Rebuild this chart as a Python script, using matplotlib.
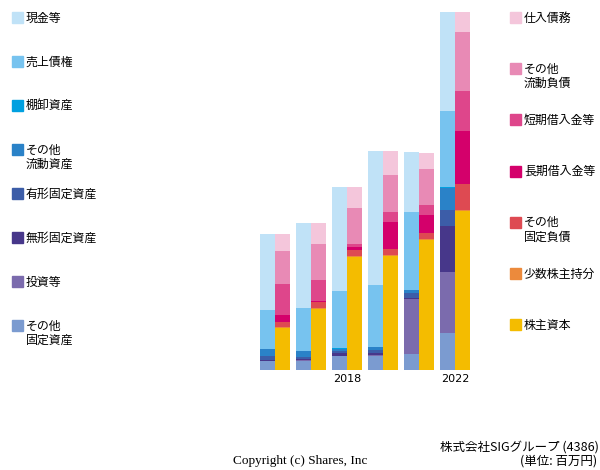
import matplotlib
matplotlib.use('Agg')
import matplotlib.pyplot as plt
from matplotlib.patches import Rectangle

plt.rcParams['font.family'] = ['Noto Sans CJK JP', 'DejaVu Sans']

# six fiscal periods; only two of them carry a tick label
tick_labels = ['', '', '2018', '', '', '2022']

# assets (bottom -> top)
asset_names = ['その他\n固定資産', '投資等', '無形固定資産', '有形固定資産',
               'その他\n流動資産', '棚卸資産', '売上債権', '現金等']
other_fixed_assets = [9.0, 9.3, 14.0, 14.3, 16.0, 37.3]
investments = [0.3, 0.5, 0.5, 0.5, 54.7, 60.3]
intangible = [0.7, 1.0, 2.5, 1.8, 1.0, 46.7]
tangible = [3.7, 2.7, 2.5, 3.5, 5.7, 15.3]
other_current_assets = [7.5, 5.5, 2.0, 2.7, 2.7, 22.7]
inventory = [0.3, 0.5, 0.3, 0.3, 0.3, 0.3]
receivables = [39.0, 43.0, 57.3, 61.7, 77.3, 76.7]
cash = [75.3, 84.5, 104.0, 134.0, 60.0, 99.0]

# liabilities and equity (bottom -> top)
liab_names = ['株主資本', '少数株主持分', 'その他\n固定負債', '長期借入金等',
              '短期借入金等', 'その他\n流動負債', '仕入債務']
equity = [42.3, 61.0, 113.3, 114.3, 130.0, 159.0]
minority = [1.0, 1.0, 1.0, 1.0, 1.0, 1.0]
other_fixed_liab = [4.3, 5.7, 5.3, 5.7, 6.0, 26.3]
long_debt = [7.3, 1.3, 3.7, 27.3, 18.3, 52.7]
short_debt = [30.7, 21.3, 3.0, 10.0, 9.7, 40.3]
other_current_liab = [33.7, 36.0, 36.0, 37.0, 36.0, 59.0]
payables = [16.7, 20.7, 21.0, 23.7, 16.3, 19.7]

asset_series = [other_fixed_assets, investments, intangible, tangible,
                other_current_assets, inventory, receivables, cash]
asset_colors = ['#7B9BD0', '#7B6BAD', '#47378A', '#3C5DA8',
                '#2A82C8', '#00A0E0', '#77C3EF', '#C0E2F7']
liab_series = [equity, minority, other_fixed_liab, long_debt,
               short_debt, other_current_liab, payables]
liab_colors = ['#F4BC00', '#EC8A3C', '#DE4A52', '#D4006B',
               '#DE468B', '#E88AB5', '#F4C6DB']

W, H = 600, 470
fig = plt.figure(figsize=(6.0, 4.7), dpi=100)
ax = fig.add_axes([257 / W, (H - 370) / H, 216 / W, 360 / H])

x = list(range(len(tick_labels)))
bw = 15 / 36

bottom = [0.0] * len(x)
for vals, c in zip(asset_series, asset_colors):
    ax.bar([i - bw / 2 for i in x], vals, bw, bottom=bottom, color=c, linewidth=0)
    bottom = [b + v for b, v in zip(bottom, vals)]

bottom = [0.0] * len(x)
for vals, c in zip(liab_series, liab_colors):
    ax.bar([i + bw / 2 for i in x], vals, bw, bottom=bottom, color=c, linewidth=0)
    bottom = [b + v for b, v in zip(bottom, vals)]

ax.set_xlim(-0.5, 5.5)
ax.set_ylim(0, 360)
ax.set_xticks(x)
ax.set_xticklabels(tick_labels, fontsize=8, family='DejaVu Sans')
ax.tick_params(axis='x', length=0, pad=3)
ax.set_yticks([])
for s in ax.spines.values():
    s.set_visible(False)


def legend_entry(px, py, color, label):
    fig.patches.append(Rectangle((px / W, 1 - (py + 5) / H), 11 / W, 11 / H,
                                 transform=fig.transFigure, color=color))
    fig.text((px + 14) / W, 1 - (py - 6.5) / H, label, fontsize=8.6, va='top',
             ha='left', linespacing=1.1)


left_items = list(zip(asset_names, asset_colors))[::-1]
for k, (name, c) in enumerate(left_items):
    legend_entry(12, 18 + 44 * k, c, name)

right_items = list(zip(liab_names, liab_colors))[::-1]
for k, (name, c) in enumerate(right_items):
    legend_entry(510, 18 + 51.2 * k, c, name)

fig.text(300 / W, 1 - 461 / H, 'Copyright (c) Shares, Inc', family='Liberation Serif',
         fontsize=9.5, ha='center', va='center')
fig.text(599 / W, 1 - 447 / H, '株式会社SIGグループ (4386)', fontsize=9,
         ha='right', va='center')
fig.text(597 / W, 1 - 461 / H, '(単位: 百万円)', fontsize=9, ha='right', va='center')

fig.savefig('out.png', dpi=100)
